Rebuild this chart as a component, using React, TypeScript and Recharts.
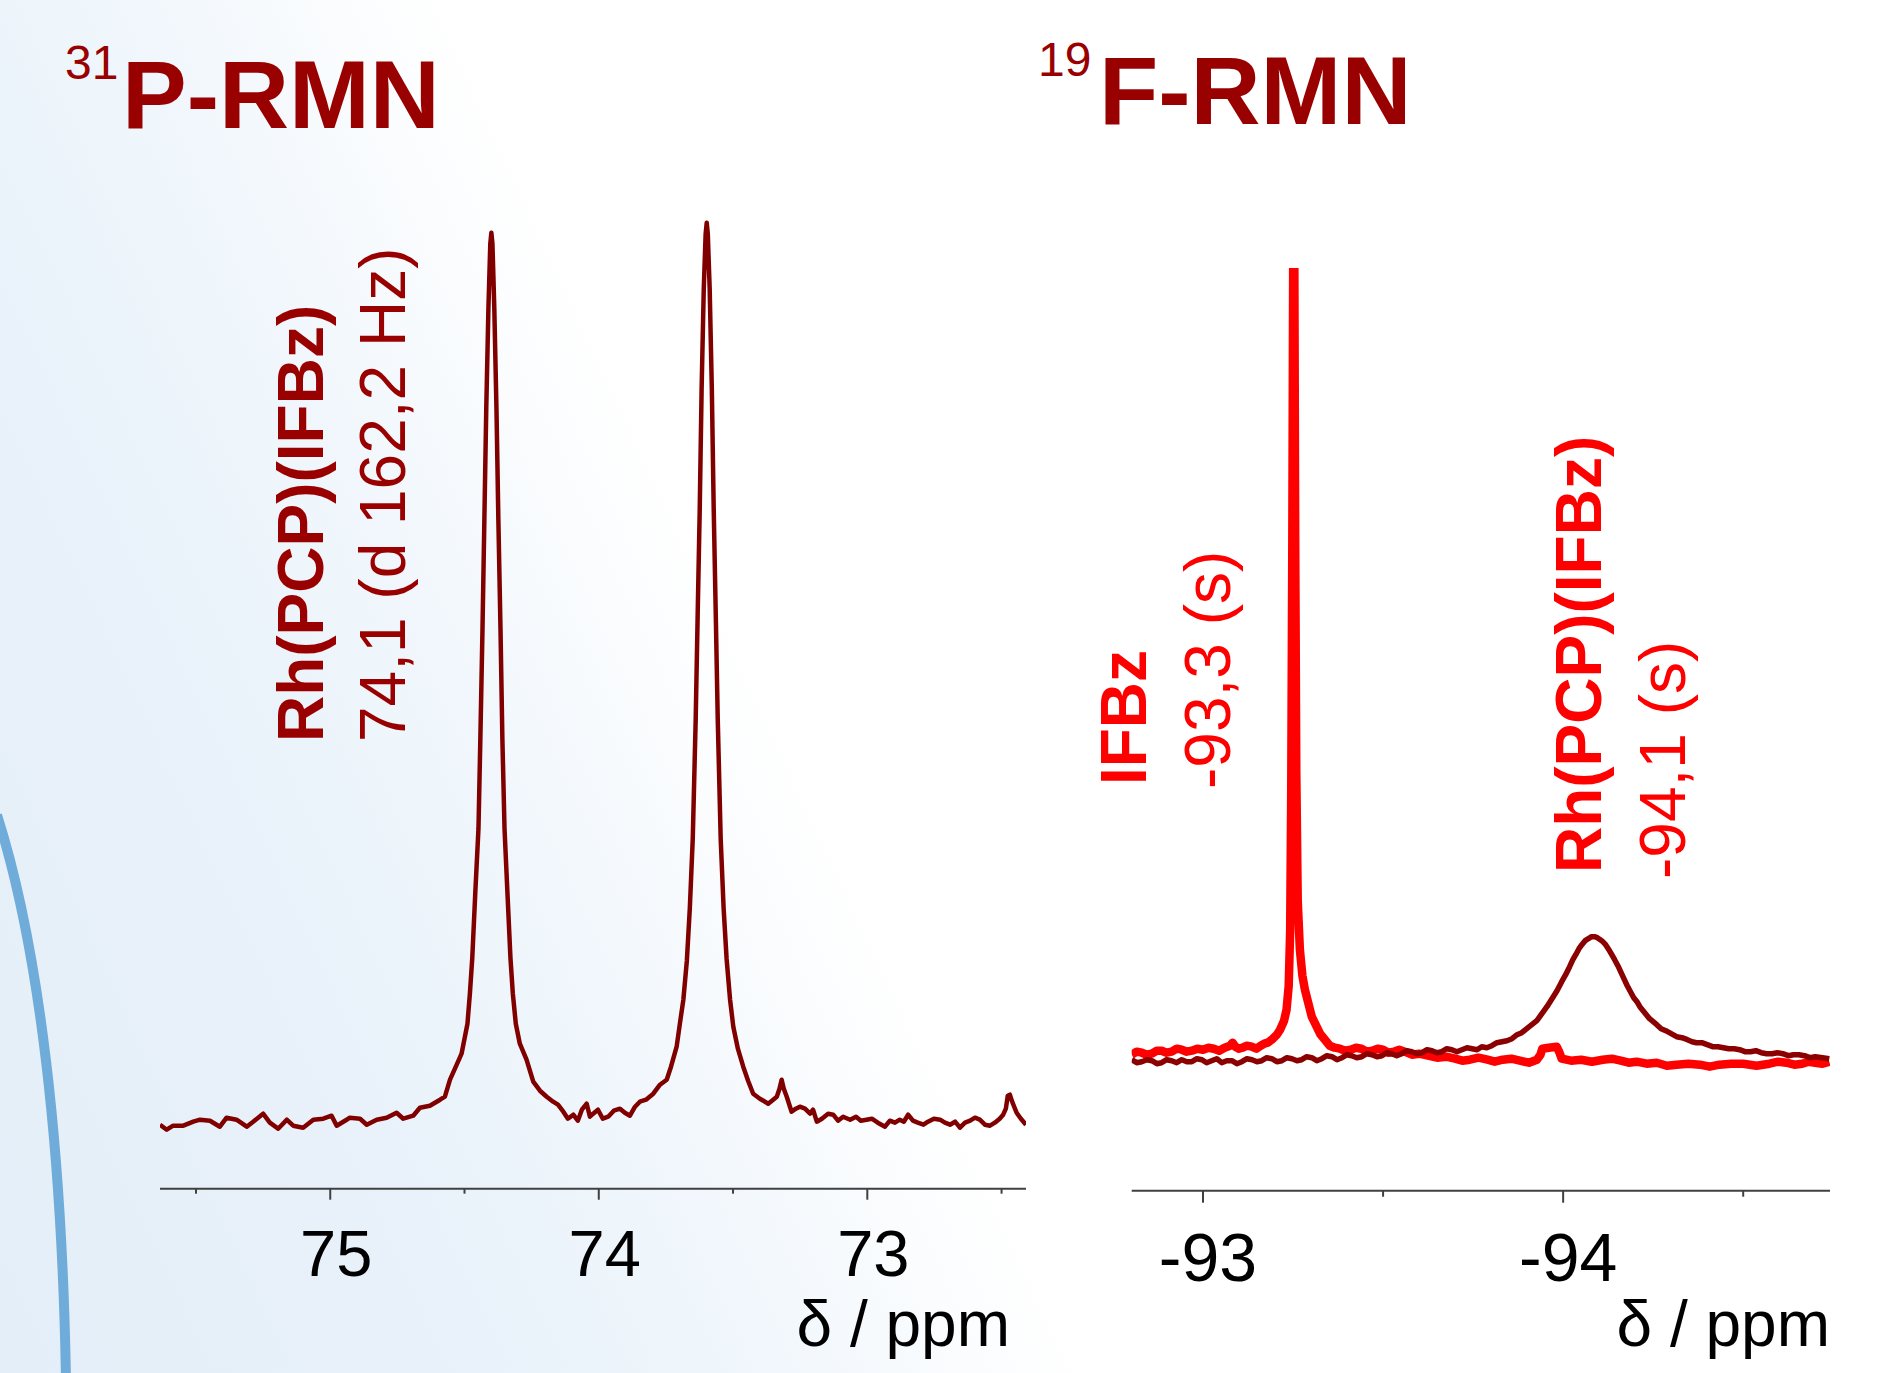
import React from 'react';
import { LineChart, Line, XAxis, YAxis } from 'recharts';

// ---------- 31P spectrum (left) ----------
const pPpm = [
  75.634, 75.609, 75.585, 75.547, 75.510, 75.485, 75.448, 75.411, 75.386, 75.349,
  75.311, 75.287, 75.250, 75.225, 75.194, 75.162, 75.138, 75.101, 75.063, 75.026,
  74.995, 74.976, 74.939, 74.927, 74.889, 74.864, 74.827, 74.790, 74.753, 74.728,
  74.691, 74.666, 74.629, 74.591, 74.573, 74.554, 74.529, 74.511, 74.500, 74.489,
  74.480, 74.471, 74.460, 74.448, 74.441, 74.433, 74.426, 74.419, 74.411, 74.404,
  74.400, 74.396, 74.389, 74.381, 74.374, 74.366, 74.359, 74.351, 74.340, 74.329,
  74.320, 74.309, 74.294, 74.269, 74.244, 74.219, 74.194, 74.170, 74.152, 74.132,
  74.115, 74.095, 74.078, 74.063, 74.045, 74.033, 74.021, 74.003, 73.985, 73.965,
  73.944, 73.921, 73.903, 73.884, 73.865, 73.847, 73.824, 73.797, 73.772, 73.747,
  73.731, 73.710, 73.698, 73.685, 73.672, 73.661, 73.650, 73.639, 73.632, 73.624,
  73.617, 73.609, 73.602, 73.598, 73.594, 73.587, 73.579, 73.572, 73.564, 73.557,
  73.546, 73.535, 73.524, 73.511, 73.499, 73.482, 73.462, 73.444, 73.425, 73.400,
  73.369, 73.355, 73.337, 73.327, 73.319, 73.311, 73.300, 73.282, 73.266, 73.251,
  73.232, 73.213, 73.202, 73.188, 73.169, 73.146, 73.127, 73.109, 73.090, 73.064,
  73.042, 73.024, 73.003, 72.983, 72.961, 72.934, 72.916, 72.897, 72.879, 72.864,
  72.848, 72.830, 72.812, 72.791, 72.774, 72.752, 72.729, 72.711, 72.692, 72.673,
  72.655, 72.636, 72.617, 72.599, 72.581, 72.562, 72.543, 72.525, 72.507, 72.494,
  72.484, 72.477, 72.469, 72.462, 72.444, 72.428, 72.409,
];
const pIntensity = [
  64, 59, 63, 63, 67, 69, 68, 62, 71, 69,
  62, 67, 75, 66, 60, 69, 63, 61, 69, 70,
  73, 63, 69, 71, 70, 64, 69, 71, 76, 70,
  73, 81, 83, 89, 92, 109, 124, 135, 150, 165,
  195, 231, 295, 360, 450, 560, 670, 780, 880, 945,
  956, 945, 880, 780, 670, 560, 450, 360, 295, 231,
  195, 165, 145, 129, 107, 98, 92, 87, 84, 77,
  70, 74, 68, 79, 85, 72, 75, 79, 70, 72,
  78, 80, 76, 73, 82, 87, 89, 95, 104, 109,
  122, 142, 165, 189, 228, 280, 350, 470, 570, 680,
  800, 900, 955, 966, 955, 900, 800, 680, 570, 470,
  350, 280, 230, 189, 162, 140, 122, 108, 95, 90,
  85, 88, 92, 100, 109, 100, 92, 77, 80, 82,
  80, 75, 79, 67, 70, 75, 74, 68, 72, 69,
  72, 68, 69, 70, 66, 62, 68, 66, 69, 67,
  74, 68, 66, 64, 67, 70, 69, 66, 64, 67,
  61, 66, 68, 71, 69, 64, 63, 66, 70, 74,
  80, 93, 94, 88, 76, 70, 64,
];

// ---------- 19F spectra (right) ----------
const ifbzPpm = [
  -92.802, -92.816, -92.830, -92.844, -92.858, -92.872, -92.885, -92.899, -92.913, -92.927,
  -92.941, -92.955, -92.969, -92.984, -93.000, -93.015, -93.030, -93.045, -93.060, -93.075,
  -93.082, -93.090, -93.100, -93.110, -93.122, -93.135, -93.148, -93.160, -93.170, -93.180,
  -93.191, -93.205, -93.214, -93.225, -93.232, -93.238, -93.242, -93.245, -93.248, -93.251,
  -93.253, -93.256, -93.259, -93.263, -93.269, -93.276, -93.283, -93.302, -93.325, -93.352,
  -93.366, -93.380, -93.395, -93.410, -93.425, -93.440, -93.455, -93.470, -93.485, -93.500,
  -93.515, -93.530, -93.545, -93.560, -93.580, -93.600, -93.625, -93.650, -93.675, -93.700,
  -93.720, -93.741, -93.765, -93.790, -93.810, -93.832, -93.856, -93.880, -93.905, -93.927,
  -93.937, -93.942, -93.960, -93.982, -93.990, -93.996, -94.022, -94.050, -94.080, -94.110,
  -94.135, -94.160, -94.182, -94.204, -94.232, -94.260, -94.288, -94.315, -94.348, -94.380,
  -94.407, -94.434, -94.467, -94.500, -94.537, -94.573, -94.597, -94.620, -94.642, -94.664,
  -94.682, -94.700, -94.720, -94.739,
];
const ifbzIntensity = [
  136, 139, 138, 136, 137, 140, 140, 138, 139, 142,
  141, 139, 140, 142, 141, 143, 142, 140, 143, 145,
  148, 144, 142, 143, 145, 144, 142, 145, 147, 148,
  151, 156, 161, 170, 181, 205, 260, 400, 650, 1000,
  1000, 650, 420, 290, 241, 215, 201, 174, 157, 145,
  143, 142, 140, 141, 143, 142, 139, 140, 142, 141,
  138, 139, 141, 139, 136, 137, 135, 133, 134, 132,
  130, 131, 133, 131, 129, 131, 132, 130, 128, 131,
  136, 142, 143, 144, 138, 132, 130, 131, 129, 131,
  132, 130, 128, 129, 127, 128, 125, 126, 127, 126,
  124, 126, 127, 127, 125, 127, 129, 128, 126, 127,
  129, 128, 127, 129,
];

const rhPpm = [
  -92.802, -92.816, -92.830, -92.844, -92.858, -92.872, -92.885, -92.899, -92.913, -92.927,
  -92.941, -92.955, -92.969, -92.983, -92.997, -93.010, -93.024, -93.038, -93.052, -93.066,
  -93.080, -93.094, -93.108, -93.122, -93.136, -93.150, -93.163, -93.177, -93.191, -93.205,
  -93.219, -93.233, -93.247, -93.261, -93.274, -93.288, -93.302, -93.316, -93.330, -93.344,
  -93.358, -93.372, -93.386, -93.400, -93.413, -93.427, -93.441, -93.455, -93.469, -93.483,
  -93.497, -93.511, -93.524, -93.538, -93.552, -93.566, -93.580, -93.594, -93.608, -93.622,
  -93.636, -93.650, -93.663, -93.677, -93.691, -93.705, -93.719, -93.733, -93.747, -93.761,
  -93.774, -93.788, -93.802, -93.816, -93.830, -93.844, -93.858, -93.872, -93.885, -93.899,
  -93.913, -93.927, -93.941, -93.955, -93.969, -93.983, -93.996, -94.007, -94.018, -94.027,
  -94.035, -94.044, -94.052, -94.061, -94.070, -94.078, -94.087, -94.095, -94.103, -94.110,
  -94.118, -94.127, -94.135, -94.143, -94.152, -94.161, -94.170, -94.178, -94.187, -94.196,
  -94.205, -94.213, -94.222, -94.231, -94.240, -94.250, -94.260, -94.272, -94.285, -94.300,
  -94.315, -94.330, -94.345, -94.358, -94.370, -94.385, -94.400, -94.415, -94.430, -94.445,
  -94.460, -94.475, -94.490, -94.505, -94.520, -94.535, -94.550, -94.565, -94.580, -94.595,
  -94.610, -94.625, -94.640, -94.655, -94.670, -94.685, -94.700, -94.720, -94.739,
];
const rhIntensity = [
  131, 128, 129, 131, 130, 127, 128, 131, 130, 128,
  131, 129, 129, 132, 131, 128, 130, 132, 128, 130,
  130, 127, 129, 132, 131, 129, 130, 133, 132, 129,
  130, 133, 132, 130, 131, 134, 133, 130, 132, 135,
  134, 131, 133, 136, 135, 133, 134, 137, 136, 134,
  135, 138, 137, 135, 137, 140, 139, 137, 138, 141,
  140, 138, 139, 142, 141, 139, 141, 143, 142, 141,
  144, 143, 145, 148, 149, 150, 152, 156, 158, 162,
  166, 170, 177, 184, 192, 200, 209, 216, 224, 231,
  236, 242, 246, 250, 252, 254, 254, 253, 251, 249,
  246, 241, 236, 231, 225, 218, 211, 205, 199, 193,
  189, 184, 180, 176, 172, 169, 166, 162, 160, 157,
  154, 153, 151, 149, 148, 148, 146, 144, 144, 143,
  142, 142, 141, 139, 139, 140, 138, 137, 137, 138,
  137, 135, 136, 136, 135, 133, 134, 133, 132,
];

// ---------- axes ----------
const pTicks = [75.5, 75, 74.5, 74, 73.5, 73, 72.5];
const fTicks = [-93, -93.5, -94, -94.5];
const pDomain = [72.409, 75.634];
const fDomain = [-94.741, -92.802];

const titleP = { sup: '31', main: 'P-RMN' };
const titleF = { sup: '19', main: 'F-RMN' };
const axisLabel = 'δ / ppm';
const labelsP = ['Rh(PCP)(IFBz)', '74,1 (d 162,2 Hz)'];
const labelsF = ['IFBz', '-93,3 (s)', 'Rh(PCP)(IFBz)', '-94,1 (s)'];

const FONT = '"Liberation Sans", Arial, Helvetica, sans-serif';
const DARK = '#990000';
const RED = '#ff0000';

const pData = pPpm.map((ppm, i) => ({ ppm, v: pIntensity[i] }));
const ifbzData = ifbzPpm.map((ppm, i) => ({ ppm, v: ifbzIntensity[i] }));
const rhData = rhPpm.map((ppm, i) => ({ ppm, v: rhIntensity[i] }));

function makeTick(major: number, minor: number, fontSize: number, dx: number, dy: number) {
  return (props: any) => {
    const { x, y, payload } = props;
    const val = payload.value;
    const isMajor = Math.abs(val - Math.round(val)) < 1e-6;
    return (
      <g>
        <line x1={x} x2={x} y1={y} y2={y + (isMajor ? major : minor)} stroke="#404040" strokeWidth={2} />
        {isMajor && (
          <text x={x + dx} y={y + dy} textAnchor="middle" fontSize={fontSize} fontFamily={FONT} fill="#000">
            {String(val)}
          </text>
        )}
      </g>
    );
  };
}

const LeftTick = makeTick(11, 5, 65, 6, 87);
const RightTick = makeTick(12, 6, 68, 5, 90);

export default function App() {
  return (
    <div
      style={{
        position: 'absolute',
        left: 0,
        top: 0,
        width: 1888,
        height: 1373,
        overflow: 'hidden',
        fontFamily: FONT,
        background:
          'linear-gradient(65deg, #e4eef8 0%, #e9f2fa 20%, #f1f7fc 31%, #fafcfe 38%, #ffffff 43%)',
      }}
    >
      <svg width={1888} height={1373} style={{ position: 'absolute', left: 0, top: 0 }}>
        <path d="M -3 815 C 40 950, 62 1150, 66 1380" fill="none" stroke="#70acd9" strokeWidth={10} />
      </svg>

      <div style={{ position: 'absolute', left: 0, top: 0 }}>
        <LineChart
          width={1100}
          height={1373}
          data={pData}
          margin={{ top: 200, right: 74, bottom: 84.3, left: 160 }}
        >
          <XAxis
            type="number"
            dataKey="ppm"
            domain={pDomain}
            reversed
            allowDataOverflow
            ticks={pTicks}
            interval={0}
            tick={LeftTick}
            tickLine={false}
            tickSize={0}
            tickMargin={0}
            height={100}
            axisLine={{ stroke: '#404040', strokeWidth: 2 }}
          />
          <YAxis type="number" domain={[0, 988.7]} allowDataOverflow hide />
          <Line
            type="linear"
            dataKey="v"
            stroke="#800000"
            strokeWidth={4.5}
            dot={false}
            activeDot={false}
            strokeLinejoin="round"
            isAnimationActive={false}
          />
        </LineChart>
      </div>

      <div style={{ position: 'absolute', left: 1060, top: 0 }}>
        <LineChart width={828} height={1373} margin={{ top: 268, right: 58, bottom: 82.3, left: 71.7 }}>
          <XAxis
            type="number"
            dataKey="ppm"
            domain={fDomain}
            reversed
            allowDataOverflow
            ticks={fTicks}
            interval={0}
            tick={RightTick}
            tickLine={false}
            tickSize={0}
            tickMargin={0}
            height={100}
            axisLine={{ stroke: '#404040', strokeWidth: 2 }}
          />
          <YAxis type="number" domain={[0, 922.7]} allowDataOverflow hide />
          <Line
            data={ifbzData}
            type="linear"
            dataKey="v"
            stroke={RED}
            strokeWidth={8.5}
            dot={false}
            activeDot={false}
            strokeLinejoin="round"
            isAnimationActive={false}
          />
          <Line
            data={rhData}
            type="linear"
            dataKey="v"
            stroke="#8b0000"
            strokeWidth={5.5}
            dot={false}
            activeDot={false}
            strokeLinejoin="round"
            isAnimationActive={false}
          />
        </LineChart>
      </div>

      <svg
        width={1888}
        height={1373}
        style={{ position: 'absolute', left: 0, top: 0, pointerEvents: 'none' }}
        fontFamily={FONT}
      >
        <text x={65} y={79} fontSize={48} fill={DARK}>{titleP.sup}</text>
        <text x={122} y={128} fontSize={97} fontWeight="bold" fill={DARK}>{titleP.main}</text>
        <text x={1038} y={76} fontSize={48} fill={DARK}>{titleF.sup}</text>
        <text x={1099} y={124} fontSize={97} fontWeight="bold" fill={DARK}>{titleF.main}</text>

        <text transform="translate(322.6,742) rotate(-90)" fontSize={64} fontWeight="bold" fill={DARK}>
          {labelsP[0]}
        </text>
        <text transform="translate(404.5,742) rotate(-90)" fontSize={64} fill={DARK}>
          {labelsP[1]}
        </text>

        <text transform="translate(1146.4,785) rotate(-90)" fontSize={64} fontWeight="bold" fill={RED}>
          {labelsF[0]}
        </text>
        <text transform="translate(1230,789) rotate(-90)" fontSize={64} fill={RED}>
          {labelsF[1]}
        </text>
        <text transform="translate(1601,873) rotate(-90)" fontSize={64} fontWeight="bold" fill={RED}>
          {labelsF[2]}
        </text>
        <text transform="translate(1685,879) rotate(-90)" fontSize={64} fill={RED}>
          {labelsF[3]}
        </text>

        <text x={1010} y={1346} textAnchor="end" fontSize={64} fill="#000">{axisLabel}</text>
        <text x={1830} y={1346} textAnchor="end" fontSize={64} fill="#000">{axisLabel}</text>
      </svg>
    </div>
  );
}
